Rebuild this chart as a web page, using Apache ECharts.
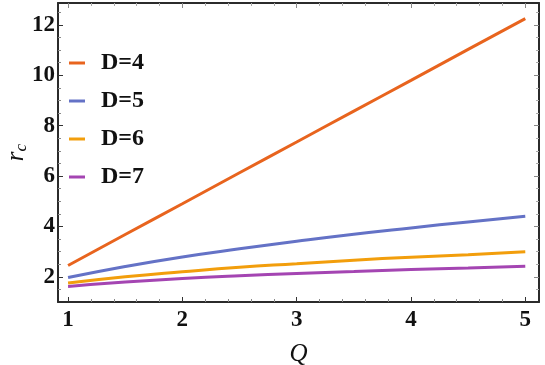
<!DOCTYPE html>
<html>
<head>
<meta charset="utf-8">
<script src="https://cdn.jsdelivr.net/npm/echarts@6/dist/echarts.min.js"></script>
<style>html,body{margin:0;padding:0;background:#fff}#c{width:545px;height:365px}</style>
</head>
<body>
<div id="c"></div>
<script>
// Data
const Q = [1, 1.5, 2, 2.5, 3, 3.5, 4, 4.5, 5];
const D4 = [2.45, 3.68, 4.90, 6.13, 7.35, 8.58, 9.80, 11.03, 12.25];
const D5 = [1.97, 2.41, 2.79, 3.11, 3.41, 3.69, 3.94, 4.18, 4.40];
const D6 = [1.75, 2.00, 2.20, 2.38, 2.52, 2.66, 2.78, 2.88, 2.99];
const D7 = [1.62, 1.79, 1.93, 2.04, 2.13, 2.21, 2.29, 2.35, 2.42];
const seriesNames = ['D=4', 'D=5', 'D=6', 'D=7'];
const xTicks = [1, 2, 3, 4, 5];
const yTicks = [2, 4, 6, 8, 10, 12];

const colors = ['#E8641E', '#6472C6', '#F29E0C', '#A445B2'];
const xMin = 0.912, xMax = 5.12, yMin = 1.0, yMax = 12.87;

const xMinor = [];
for (let v = 1; v < 5.1; v += 0.2) { const r = Math.round(v * 10) / 10; if (Math.abs(r - Math.round(r)) > 1e-6) xMinor.push(r); }
const yMinor = [];
for (let v = 1.5; v < 12.9; v += 0.5) { if (Math.abs(v / 2 - Math.round(v / 2)) > 1e-6) yMinor.push(v); }

const frameColor = '#2b2b2b';
const font = '"Liberation Serif", "Times New Roman", serif';

function xAx(pos, ticks, len, label, showLine, color) {
  return {
    type: 'value', position: pos, min: xMin, max: xMax,
    axisLine: { show: showLine, onZero: false, lineStyle: { color: frameColor, width: 2 } },
    axisTick: { show: true, inside: true, length: len, customValues: ticks, lineStyle: { color: color, width: 1 } },
    axisLabel: label ? { show: true, customValues: ticks, margin: 7, color: '#111', fontFamily: font, fontWeight: 'bold', fontSize: 23 } : { show: false },
    splitLine: { show: false }
  };
}
function yAx(pos, ticks, len, label, showLine, color) {
  return {
    type: 'value', position: pos, min: yMin, max: yMax,
    axisLine: { show: showLine, onZero: false, lineStyle: { color: frameColor, width: 2 } },
    axisTick: { show: true, inside: true, length: len, customValues: ticks, lineStyle: { color: color, width: 1 } },
    axisLabel: label ? { show: true, customValues: ticks, margin: 3, color: '#111', fontFamily: font, fontWeight: 'bold', fontSize: 23 } : { show: false },
    splitLine: { show: false }
  };
}

const xAxes = [
  xAx('bottom', xTicks, 5, true, true, '#333'),
  xAx('bottom', xMinor, 3, false, false, '#888'),
  xAx('top', xTicks, 5, false, true, '#888'),
  xAx('top', xMinor, 3, false, false, '#aaa')
];
xAxes[0].name = 'Q';
xAxes[0].nameLocation = 'middle';
xAxes[0].nameGap = 40;
xAxes[0].nameMoveOverlap = false;
xAxes[0].nameTextStyle = { fontFamily: font, fontStyle: 'italic', fontWeight: 'normal', fontSize: 25, color: '#111' };

const yAxes = [
  yAx('left', yTicks, 5, true, true, '#333'),
  yAx('left', yMinor, 3, false, false, '#888'),
  yAx('right', yTicks, 5, false, true, '#888'),
  yAx('right', yMinor, 3, false, false, '#aaa')
];
yAxes[0].name = '{r|r}{c|c}';
yAxes[0].nameLocation = 'middle';
yAxes[0].nameRotate = 90;
yAxes[0].nameGap = 28;
yAxes[0].nameMoveOverlap = false;
yAxes[0].nameTextStyle = {
  color: '#111',
  rich: {
    r: { fontFamily: font, fontStyle: 'italic', fontWeight: 'normal', fontSize: 25, color: '#111', lineHeight: 28, verticalAlign: 'middle' },
    c: { fontFamily: font, fontStyle: 'italic', fontWeight: 'normal', fontSize: 17, color: '#111', lineHeight: 28, verticalAlign: 'bottom' }
  }
};

const allSeries = [D4, D5, D6, D7].map((arr, i) => ({
  name: seriesNames[i],
  type: 'line',
  xAxisIndex: 0, yAxisIndex: 0,
  data: Q.map((q, j) => [q, arr[j]]),
  smooth: true,
  showSymbol: false,
  lineStyle: { color: colors[i], width: 3 },
  itemStyle: { color: colors[i] },
  z: 5
}));

const chart = echarts.init(document.getElementById('c'), null, { renderer: 'canvas' });
chart.setOption({
  animation: false,
  backgroundColor: '#fff',
  grid: { left: 58, top: 3, width: 481, height: 299, containLabel: false, outerBoundsMode: 'none' },
  legend: {
    orient: 'vertical', left: 64, top: 46,
    icon: 'rect', itemWidth: 16, itemHeight: 3, itemGap: 14,
    data: seriesNames,
    textStyle: { fontFamily: font, fontWeight: 'bold', fontSize: 24, color: '#111', lineHeight: 24, padding: [0, 0, 0, 11] }
  },
  xAxis: xAxes,
  yAxis: yAxes,
  series: allSeries
});
</script>
</body>
</html>
